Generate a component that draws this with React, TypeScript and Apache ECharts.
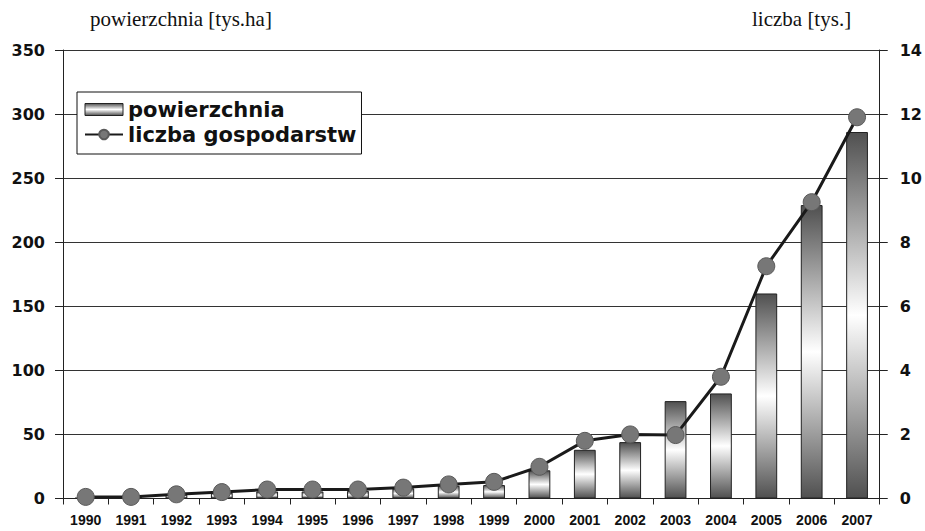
import React, { useEffect, useRef } from "react";
import * as echarts from "echarts";

const years = ["1990","1991","1992","1993","1994","1995","1996","1997","1998","1999","2000","2001","2002","2003","2004","2005","2006","2007"];
const areaValues = [0.5, 1, 3, 4.5, 5.5, 5.5, 6, 8, 10, 10.5, 22, 38, 44, 76, 82, 160, 229, 286];
const farmValues = [0.05, 0.05, 0.13, 0.2, 0.28, 0.28, 0.28, 0.34, 0.44, 0.52, 0.99, 1.8, 2.0, 1.98, 3.8, 7.25, 9.25, 11.9];
const leftTicks = { min: 0, max: 350, interval: 50 };
const rightTicks = { min: 0, max: 14, interval: 2 };
const leftTitle = "powierzchnia [tys.ha]";
const rightTitle = "liczba [tys.]";
const seriesNames = ["powierzchnia", "liczba gospodarstw"];

export default function App() {
  const ref = useRef<HTMLDivElement>(null);
  useEffect(() => {
    if (!ref.current) return;
    const chart = echarts.init(ref.current, null, { renderer: "svg" });
    const sans = "'Liberation Sans', Arial, sans-serif";
    const wide = "'DejaVu Sans', 'Liberation Sans', Arial, sans-serif";
    const serif = "'Liberation Serif', 'Times New Roman', serif";
    const barGrad = new echarts.graphic.LinearGradient(0, 0, 0, 1, [
      { offset: 0, color: "#505050" },
      { offset: 0.5, color: "#ffffff" },
      { offset: 1, color: "#505050" },
    ]);
    chart.setOption({
      animation: false,
      backgroundColor: "#ffffff",
      grid: { left: 63, right: 43, top: 50, bottom: 32.5, containLabel: false },
      graphic: [
        { type: "text", left: 90, top: 8, style: { text: leftTitle, font: `21px ${serif}`, fill: "#111" } },
        { type: "text", left: 752, top: 8, style: { text: rightTitle, font: `21px ${serif}`, fill: "#111" } },
      ],
      legend: {
        orient: "vertical",
        left: 77,
        top: 92,
        padding: [7, 5, 9, 7],
        itemGap: 4,
        itemWidth: 38,
        itemHeight: 12,
        borderColor: "#111",
        borderWidth: 1,
        backgroundColor: "#ffffff",
        textStyle: { fontFamily: wide, fontWeight: "bold", fontSize: 21, color: "#111" },
        data: [
          { name: seriesNames[0], icon: "rect", itemStyle: { borderColor: "#222", borderWidth: 1 } },
          { name: seriesNames[1] },
        ],
      },
      xAxis: {
        type: "category",
        data: years,
        boundaryGap: true,
        axisLine: { show: true, lineStyle: { color: "#222", width: 1 } },
        axisTick: { show: true, inside: false, length: 6, lineStyle: { color: "#222" } },
        axisLabel: { fontFamily: sans, fontWeight: "bold", fontSize: 14, color: "#111", margin: 14 },
        splitLine: { show: false },
      },
      yAxis: [
        {
          type: "value",
          ...leftTicks,
          axisLine: { show: true, lineStyle: { color: "#222", width: 1 } },
          axisTick: { show: true, inside: false, length: 8, lineStyle: { color: "#222" } },
          axisLabel: { fontFamily: wide, fontWeight: "bold", fontSize: 16, color: "#111", margin: 18 },
          splitLine: { show: true, lineStyle: { color: "#333", width: 1 } },
        },
        {
          type: "value",
          ...rightTicks,
          position: "right",
          axisLine: { show: true, lineStyle: { color: "#222", width: 1 } },
          axisTick: { show: true, inside: false, length: 8, lineStyle: { color: "#222" } },
          axisLabel: { fontFamily: wide, fontWeight: "bold", fontSize: 16, color: "#111", margin: 20 },
          splitLine: { show: false },
        },
      ],
      series: [
        {
          name: seriesNames[0],
          type: "bar",
          data: areaValues,
          yAxisIndex: 0,
          barWidth: "48%",
          itemStyle: { color: barGrad, borderColor: "#222", borderWidth: 1 },
          z: 2,
        },
        {
          name: seriesNames[1],
          type: "line",
          data: farmValues,
          yAxisIndex: 1,
          symbol: "circle",
          symbolSize: 17,
          lineStyle: { color: "#1a1a1a", width: 3 },
          itemStyle: { color: "#777777", borderColor: "#5a5a5a", borderWidth: 1 },
          z: 3,
        },
      ],
    });
    return () => chart.dispose();
  }, []);
  return <div ref={ref} style={{ position: "fixed", left: 0, top: 0, width: 925, height: 531 }} />;
}
